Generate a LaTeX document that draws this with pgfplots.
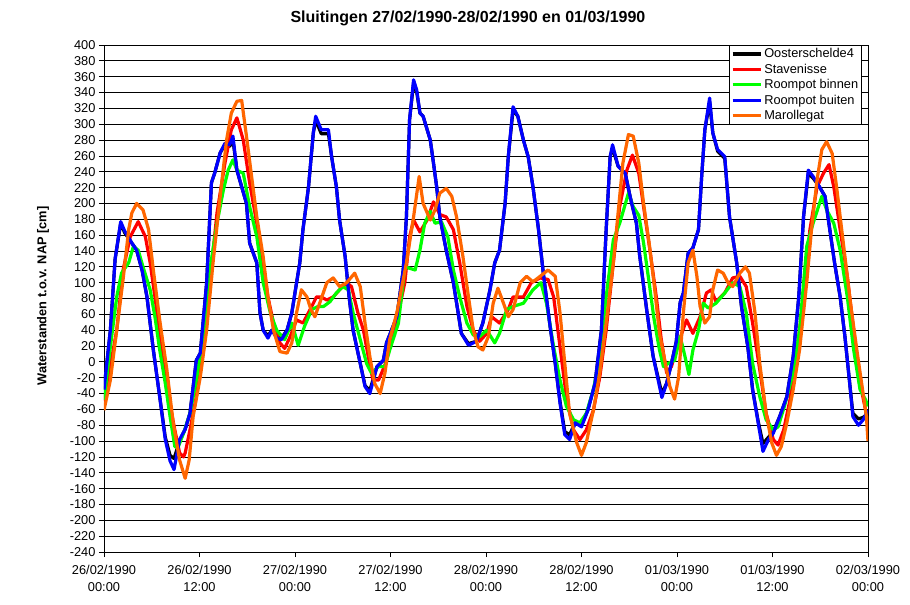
\documentclass[border=0pt]{standalone}
\usepackage{pgfplots}
\pgfplotsset{compat=1.18}
\usepackage{fontspec}
\setmainfont{Liberation Sans}
\definecolor{xlorange}{RGB}{255,102,0}
\definecolor{xlgreen}{RGB}{0,255,0}
\definecolor{xlblue}{RGB}{0,0,255}
\definecolor{xlred}{RGB}{255,0,0}
\begin{document}
\begin{tikzpicture}
\useasboundingbox (-104bp,-53bp) rectangle (806bp,552bp);
\begin{axis}[
  scale only axis, width=764bp, height=507bp,
  xmin=0, xmax=96, ymin=-240, ymax=400,
  xtick={0,12,...,96},
  xticklabels={{26/02/1990\\00:00},{26/02/1990\\12:00},{27/02/1990\\00:00},{27/02/1990\\12:00},{28/02/1990\\00:00},{28/02/1990\\12:00},{01/03/1990\\00:00},{01/03/1990\\12:00},{02/03/1990\\00:00}},
  xticklabel style={align=center, yshift=-5bp, font=\fontsize{12.8bp}{17bp}\selectfont},
  ytick={-240,-220,...,400},
  yticklabel style={font=\fontsize{12.8bp}{15bp}\selectfont},
  /pgf/number format/assume math mode=true,
  ymajorgrids, grid style={black, line width=0.8bp},
  axis line style={line width=0.8bp},
  tick pos=left, tick align=outside, major tick length=5bp,
  tick style={black, line width=0.8bp},
  title={Sluitingen 27/02/1990-28/02/1990 en 01/03/1990},
  title style={at={(axis description cs:0.4764,1.033)}, anchor=base, font=\bfseries\fontsize{16bp}{18bp}\selectfont},
  ylabel={Waterstanden t.o.v. NAP [cm]},
  ylabel style={at={(axis description cs:-0.0798,0.505)}, anchor=center, font=\bfseries\fontsize{12.8bp}{15bp}\selectfont},
  legend style={at={(rel axis cs:0.992,1)}, anchor=north east, draw=black, fill=white,
     font=\fontsize{12.8bp}{14bp}\selectfont, inner sep=1.5bp, row sep=0.6bp, cells={anchor=west}},
  legend cell align=left,
  legend image code/.code={\draw[line width=3.2bp] (0bp,0bp) -- (28bp,0bp);},
  every axis plot/.append style={line width=3.2bp, line join=round, no markers},
]
% Oosterschelde4
\addplot[black] coordinates {
(0,-35)(0.8,40)(1.4,130)(2.1,175)(2.6,163)(3.5,150)(4.1,141)(4.8,115)(5.4,82)(6.2,15)(7.0,-44)(7.7,-95)(8.3,-118)(8.8,-122)(9.5,-100)(10.2,-85)(10.8,-65)(11.6,2)(12.1,11)(12.9,100)(13.5,226)(13.9,238)(14.6,264)(15.2,274)(15.8,272)(16.2,280)(16.7,242)(17.9,200)(18.3,150)(19.2,125)(19.6,62)(20.0,40)(20.6,33)(21.1,40)(21.7,32)(22.3,30)(23.0,40)(23.6,62)(24.2,100)(24.6,125)(25.0,167)(25.7,221)(26.3,289)(26.6,305)(27.3,288)(28.2,288)(28.6,259)(29.2,221)(29.6,179)(30.3,133)(30.8,82)(31.3,40)(32.2,-2)(32.8,-30)(33.4,-36)(34.3,-6)(35.1,2)(35.5,24)(36.8,57)(37.6,116)(38.0,183)(38.4,306)(38.9,352)(39.3,340)(39.7,314)(40.1,310)(41.0,280)(41.4,251)(41.8,221)(42.2,183)(43.0,141)(43.9,100)(44.5,62)(44.9,36)(45.8,23)(46.8,26)(47.6,49)(48.5,91)(49.1,125)(49.7,141)(50.4,200)(50.8,259)(51.4,318)(52.0,310)(52.7,280)(53.3,259)(53.9,221)(54.6,167)(55.2,112)(56.0,49)(56.7,-2)(57.3,-50)(57.9,-88)(58.5,-92)(59.2,-77)(60.0,-80)(60.8,-61)(61.7,-27)(62.5,40)(63.1,167)(63.6,259)(63.9,270)(64.6,247)(65.5,238)(66.1,209)(66.9,175)(67.3,135)(68.2,65)(69.0,7)(70.1,-40)(70.7,-27)(71.3,-2)(71.9,25)(72.4,75)(72.8,87)(73.4,137)(74.0,144)(74.7,167)(75.1,234)(75.5,293)(76.1,328)(76.5,289)(77.1,266)(78.0,257)(78.6,183)(79.5,125)(80.1,70)(80.9,19)(81.5,-35)(82.2,-75)(82.8,-103)(83.5,-95)(84.1,-88)(84.9,-69)(85.8,-44)(86.6,7)(87.3,82)(87.9,183)(88.5,238)(89.1,232)(89.9,221)(90.6,209)(91.2,167)(91.8,125)(92.5,82)(93.1,32)(93.7,-27)(94.1,-65)(94.8,-72)(95.4,-70)(96,-65)
};
\addlegendentry{Oosterschelde4}
% Stavenisse
\addplot[xlred] coordinates {
(0,-50)(1.6,40)(2.4,116)(3.3,158)(4.3,177)(5.2,158)(5.8,125)(6.4,82)(7.2,19)(8.1,-44)(8.9,-86)(9.5,-115)(10.0,-120)(10.2,-115)(10.8,-86)(11.6,-44)(12.5,19)(13.3,100)(14.2,188)(15.2,251)(16.0,293)(16.7,308)(17.5,280)(18.3,226)(19.2,175)(20.0,125)(20.6,82)(21.3,49)(22.1,24)(22.7,17)(23.4,32)(24.2,53)(25.0,49)(25.9,66)(26.7,82)(27.3,82)(28.0,78)(28.8,82)(29.6,91)(30.5,100)(31.1,95)(31.9,62)(32.6,40)(33.2,7)(33.8,-23)(34.5,-23)(35.3,-4)(36.3,32)(36.8,53)(37.8,100)(38.4,158)(38.9,179)(39.7,164)(40.6,179)(41.4,202)(42.2,186)(43.0,183)(43.9,167)(44.7,125)(45.6,70)(46.4,40)(47.2,26)(48.1,36)(48.7,57)(49.7,49)(50.8,66)(51.4,82)(52.7,82)(53.7,100)(54.8,106)(55.8,104)(56.5,82)(57.3,19)(58.1,-44)(59.0,-86)(59.8,-98)(60.6,-86)(61.5,-61)(62.3,-19)(63.1,40)(64.0,125)(64.8,196)(65.7,242)(66.4,261)(67.2,238)(67.8,196)(68.6,141)(69.4,82)(70.0,30)(70.7,-14)(71.3,-6)(71.9,15)(72.6,36)(73.2,53)(74.0,36)(74.9,57)(75.7,87)(76.3,91)(76.9,76)(78.0,87)(79.0,106)(79.9,108)(80.7,95)(81.5,49)(82.4,-10)(83.2,-65)(84.1,-98)(84.7,-105)(85.4,-86)(86.2,-48)(87.0,7)(87.9,82)(88.7,167)(89.6,221)(90.4,238)(91.1,249)(91.7,221)(92.5,167)(93.4,108)(94.2,40)(95.0,-27)(95.7,-61)(96,-82)
};
\addlegendentry{Stavenisse}
% Roompot binnen
\addplot[xlgreen] coordinates {
(0,-48)(0.8,19)(1.6,82)(2.2,112)(3.1,125)(3.7,146)(4.3,141)(4.9,120)(5.8,91)(6.4,57)(7.0,15)(7.7,-27)(8.3,-69)(8.9,-107)(9.3,-108)(10.0,-90)(10.8,-65)(11.6,-23)(12.5,32)(13.3,116)(14.2,175)(15.0,217)(15.6,242)(16.2,255)(16.7,242)(17.5,238)(18.3,196)(19.2,158)(20.0,100)(20.9,62)(21.7,40)(22.7,28)(23.6,49)(24.4,21)(25.2,45)(26.1,66)(26.9,70)(27.6,70)(28.4,76)(29.2,87)(30.0,95)(30.7,91)(31.3,62)(32.2,28)(33.0,-2)(33.6,-14)(34.5,-6)(35.3,-6)(35.9,15)(37.0,49)(37.8,120)(39.1,116)(39.7,141)(40.3,175)(41.0,190)(41.6,175)(42.4,177)(43.2,158)(43.9,116)(44.7,82)(45.6,49)(46.4,34)(47.2,32)(48.1,40)(49.1,24)(49.7,36)(50.6,66)(51.4,70)(52.7,74)(53.9,91)(54.9,100)(55.6,74)(56.5,19)(57.3,-23)(58.1,-56)(59.0,-73)(59.8,-77)(60.6,-65)(61.5,-35)(62.3,7)(63.1,82)(64.0,154)(64.8,175)(65.9,213)(66.5,196)(67.2,185)(67.8,150)(68.5,100)(69.1,55)(69.8,15)(70.3,-6)(70.9,-2)(71.7,2)(72.4,32)(73.0,7)(73.5,-16)(74.0,15)(74.7,40)(75.3,74)(75.9,68)(76.9,74)(78.0,87)(79.0,100)(79.9,95)(80.7,62)(81.5,-2)(82.4,-44)(83.2,-73)(84.1,-86)(84.7,-82)(85.5,-56)(86.6,-14)(87.4,40)(88.3,146)(89.1,175)(90.2,209)(90.8,192)(91.7,175)(92.5,141)(93.4,82)(94.2,15)(95.0,-35)(95.7,-48)(96,-56)
};
\addlegendentry{Roompot binnen}
% Roompot buiten
\addplot[xlblue] coordinates {
(0,-35)(0.8,40)(1.4,130)(2.1,177)(2.6,165)(3.5,150)(4.1,141)(4.8,115)(5.4,82)(6.2,15)(7.0,-44)(7.7,-98)(8.3,-125)(8.8,-136)(9.5,-98)(10.2,-85)(10.8,-65)(11.6,2)(12.1,11)(12.9,100)(13.5,226)(13.9,238)(14.6,264)(15.2,276)(15.8,274)(16.2,285)(16.7,242)(17.9,200)(18.3,150)(19.2,125)(19.6,62)(20.0,40)(20.6,30)(21.1,40)(21.7,30)(22.3,28)(23.0,40)(23.6,62)(24.2,100)(24.6,125)(25.0,167)(25.7,221)(26.3,289)(26.6,310)(27.3,293)(28.2,293)(28.6,259)(29.2,221)(29.6,179)(30.3,133)(30.8,82)(31.3,40)(32.2,-2)(32.8,-31)(33.4,-40)(34.3,-6)(35.1,2)(35.5,24)(36.8,57)(37.6,116)(38.0,183)(38.4,306)(38.9,356)(39.3,343)(39.7,314)(40.1,310)(41.0,280)(41.4,251)(41.8,221)(42.2,183)(43.0,141)(43.9,100)(44.5,62)(44.9,36)(45.8,21)(46.8,26)(47.6,49)(48.5,91)(49.1,125)(49.7,141)(50.4,200)(50.8,259)(51.4,322)(52.0,310)(52.7,280)(53.3,259)(53.9,221)(54.6,167)(55.2,112)(56.0,49)(56.7,-2)(57.3,-52)(57.9,-92)(58.5,-98)(59.2,-77)(60.0,-82)(60.8,-61)(61.7,-27)(62.5,40)(63.1,167)(63.6,259)(63.9,274)(64.6,247)(65.5,238)(66.1,209)(66.9,175)(67.3,135)(68.2,65)(69.0,7)(70.1,-45)(70.7,-27)(71.3,-2)(71.9,25)(72.4,75)(72.8,87)(73.4,137)(74.0,144)(74.7,167)(75.1,234)(75.5,293)(76.1,333)(76.5,289)(77.1,268)(78.0,259)(78.6,183)(79.5,125)(80.1,70)(80.9,19)(81.5,-35)(82.2,-77)(82.8,-113)(83.5,-98)(84.1,-90)(84.9,-69)(85.8,-44)(86.6,7)(87.3,82)(87.9,183)(88.5,242)(89.1,234)(89.9,221)(90.6,209)(91.2,167)(91.8,125)(92.5,82)(93.1,32)(93.7,-27)(94.1,-69)(94.8,-80)(95.4,-73)(96,-61)
};
\addlegendentry{Roompot buiten}
% Marollegat
\addplot[xlorange] coordinates {
(0,-61)(0.8,-23)(1.6,40)(2.4,104)(3.1,167)(3.5,188)(4.1,200)(4.9,192)(5.6,167)(6.2,116)(7.0,53)(7.9,-10)(8.7,-77)(9.5,-124)(10.2,-147)(10.7,-124)(11.2,-69)(12.1,-19)(12.9,40)(13.7,125)(14.6,209)(15.4,280)(16.0,314)(16.7,329)(17.3,330)(17.9,285)(18.6,230)(19.2,183)(20.0,133)(20.6,82)(21.3,40)(22.1,13)(23.0,11)(23.6,24)(24.2,62)(24.8,91)(25.5,82)(26.0,66)(26.5,57)(27.1,74)(28.0,100)(28.8,106)(29.6,95)(30.5,100)(31.5,112)(32.2,95)(32.8,49)(33.4,7)(34.0,-27)(34.7,-40)(35.3,-14)(35.9,28)(36.8,62)(38.0,125)(38.9,183)(39.6,234)(40.1,200)(41.0,179)(41.6,192)(42.2,213)(43.0,219)(43.7,209)(44.3,183)(45.1,133)(45.8,82)(46.4,40)(47.0,19)(47.6,15)(48.3,32)(48.9,74)(49.5,93)(50.2,74)(50.8,57)(51.4,66)(52.3,100)(53.1,108)(53.9,101)(54.8,108)(55.8,116)(56.7,108)(57.3,62)(57.9,-2)(58.5,-65)(59.4,-102)(60.0,-118)(60.6,-102)(61.5,-61)(62.3,-14)(63.1,49)(64.0,125)(64.6,188)(65.2,251)(65.9,287)(66.5,285)(67.2,251)(67.8,200)(68.5,150)(69.1,100)(69.8,36)(70.4,5)(71.1,-31)(71.7,-47)(72.2,-19)(72.8,62)(73.4,125)(74.0,141)(74.5,108)(74.9,70)(75.5,49)(76.1,57)(76.5,91)(77.1,116)(77.8,112)(78.4,100)(79.0,95)(79.9,112)(80.6,120)(81.1,112)(81.8,62)(82.4,-2)(83.2,-65)(83.9,-102)(84.5,-118)(85.1,-107)(85.8,-77)(86.6,-35)(87.4,15)(88.3,100)(88.9,167)(89.6,230)(90.2,268)(90.8,278)(91.5,263)(92.1,217)(92.9,150)(93.8,74)(94.6,15)(95.2,-27)(95.8,-69)(96,-100)
};
\addlegendentry{Marollegat}
\end{axis}
\end{tikzpicture}
\end{document}
